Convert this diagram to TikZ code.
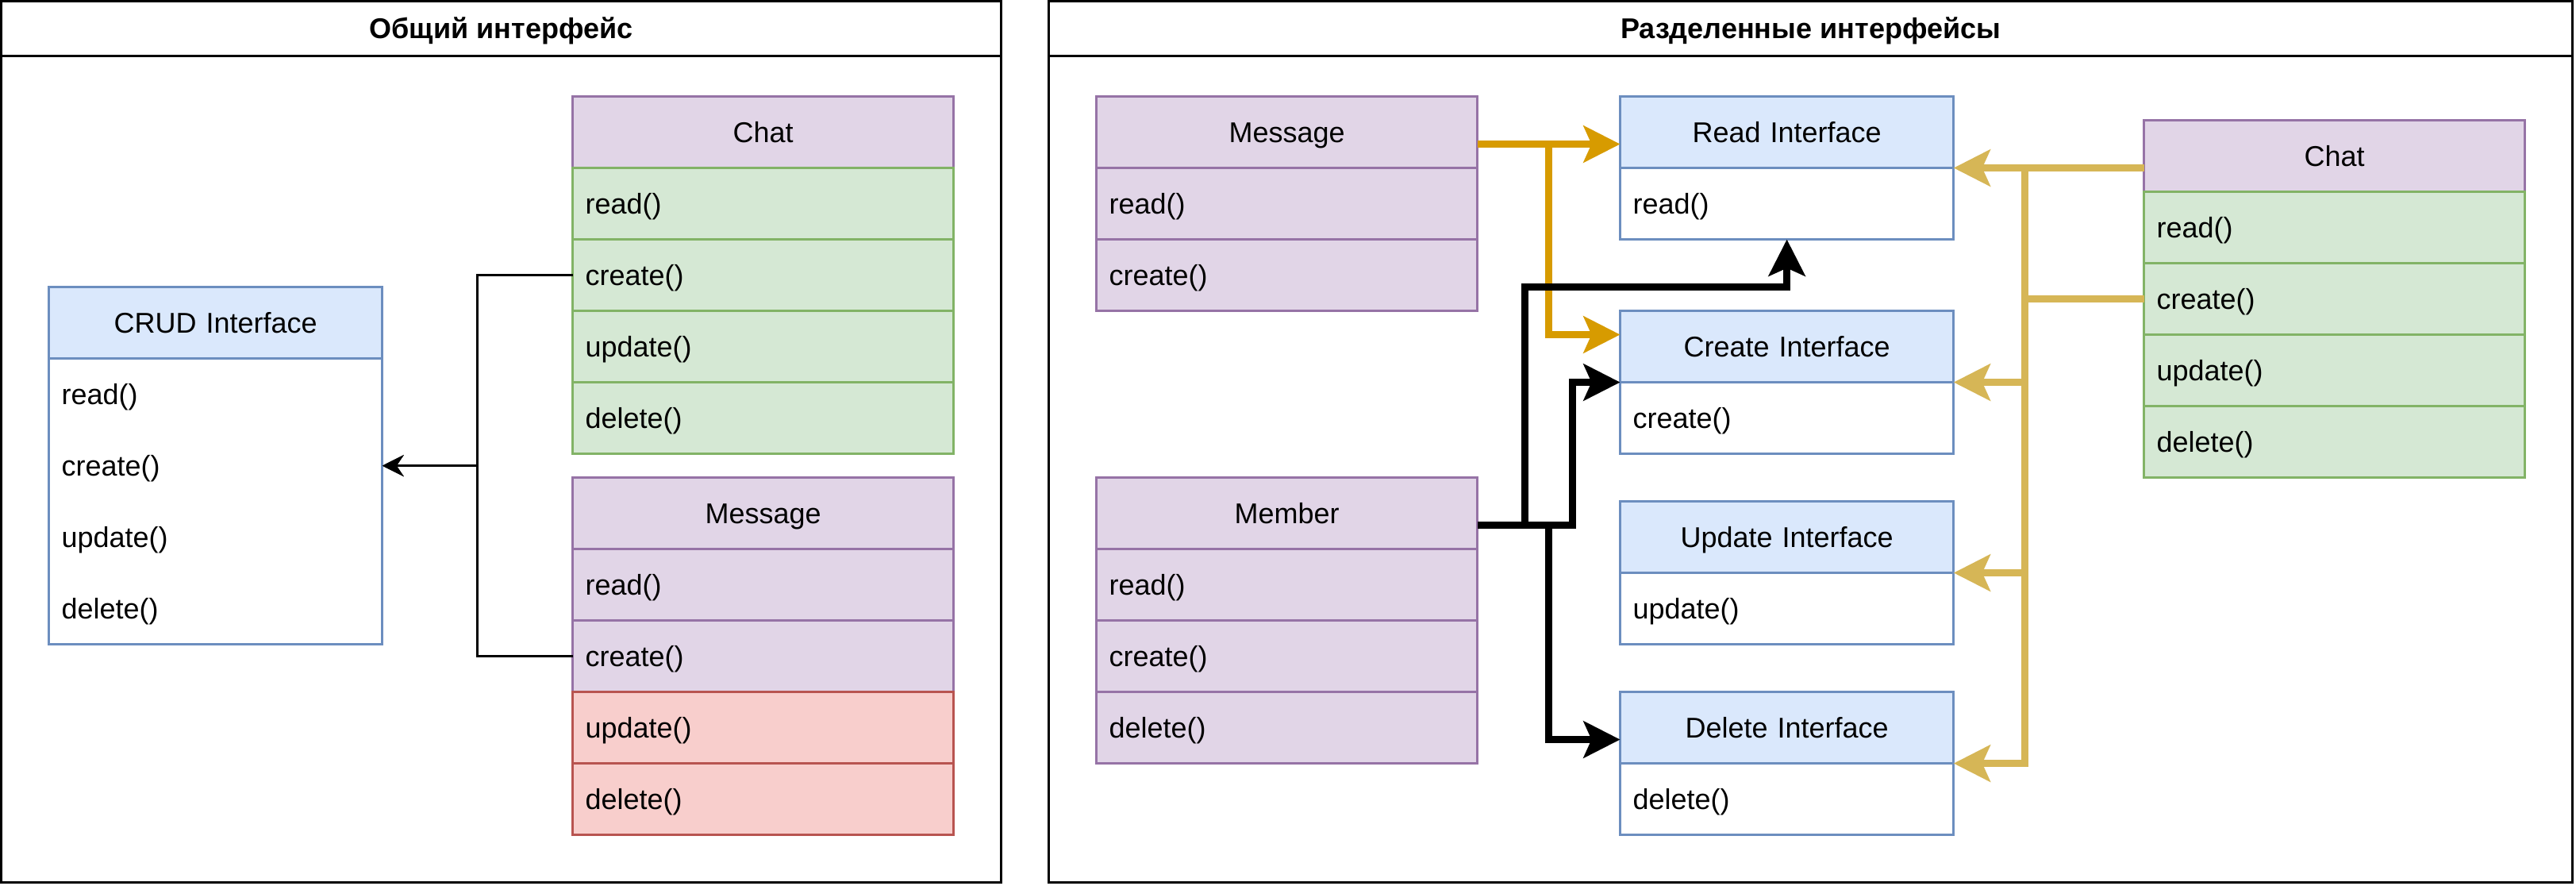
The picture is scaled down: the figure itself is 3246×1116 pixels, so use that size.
\documentclass[tikz,border=0pt]{standalone}
\usepackage{fontspec}
\setmainfont{Liberation Sans}
\usetikzlibrary{arrows.meta,positioning}
\usetikzlibrary{fit}

\definecolor{lilacFill}{HTML}{E1D5E7}
\definecolor{lilacLine}{HTML}{9673A6}
\definecolor{greenFill}{HTML}{D5E8D4}
\definecolor{greenLine}{HTML}{82B366}
\definecolor{redFill}{HTML}{F8CECC}
\definecolor{redLine}{HTML}{B85450}
\definecolor{blueFill}{HTML}{DAE8FC}
\definecolor{blueLine}{HTML}{6C8EBF}
\definecolor{orangeLine}{HTML}{D79B00}
\definecolor{goldLine}{HTML}{D6B656}

\tikzset{
	%Define standard arrow tip
	>={Stealth[length=0.27cm,width=0.27cm,inset=0.09cm]},
	%Define style for class boxes
	kasse/.style={
		rectangle,
		line width=0.03cm,
		inner xsep=0.16cm, inner ysep=0pt, outer sep=0pt,
		text width=4.48cm,
		minimum height=0.9cm,
		text height=0.33cm, text depth=0.07cm},
	hode/.style={kasse, align=center},
	felt/.style={kasse, align=left},
	smal/.style={text width=3.88cm},
	% Define colour styles
	lilla/.style={fill=lilacFill, draw=lilacLine},
	gronn/.style={fill=greenFill, draw=greenLine},
	roed/.style={fill=redFill, draw=redLine},
	blaa/.style={fill=blueFill, draw=blueLine},
	hvit/.style={fill=white, draw=blueLine},
	% Define frame styles
	ramme/.style={draw=black, line width=0.03cm},
	tittel/.style={font=\fontsize{10.24}{12.3}\selectfont\bfseries, inner sep=0pt,
		text height=0.33cm, text depth=0.07cm},
	% Define arrow styles
	pil/.style={->, line width=0.03cm},
	pilTykk/.style={line width=0.087cm,
		-{Stealth[length=0.46cm,width=0.46cm,inset=0.1cm]}},
	pilO/.style={pilTykk, draw=orangeLine, color=orangeLine},
	pilS/.style={pilTykk, draw=black},
	pilG/.style={pilTykk, draw=goldLine, color=goldLine}
}

\begin{document}
\begin{tikzpicture}[x=0.01cm, y=-0.01cm, font=\fontsize{10.24}{12.3}\selectfont]

	\pgfdeclarelayer{bg}    % background layer for the CRUD body
	\pgfsetlayers{bg,main}

	\useasboundingbox (0,0) rectangle (3246,1116);

	% frames
	\draw[ramme] (1.5,1.5) rectangle (1261.5,1111.5);
	\draw[ramme] (1.5,70.5) -- (1261.5,70.5);
	\node[tittel] (leftT) at (631.5,36) {Общий интерфейс};
	\draw[ramme] (1321.5,1.5) rectangle (3241.5,1111.5);
	\draw[ramme] (1321.5,70.5) -- (3241.5,70.5);
	\node[tittel] (rightT) at (2281.5,36) {Разделенные интерфейсы};

	% left side
	\node[hode, smal, blaa, anchor=north west] (crud) at (61.5,361.5) {CRUD Interface};
	\node[felt, smal, below=0pt of crud] (crudR) {read()};
	\node[felt, smal, below=0pt of crudR] (crudC) {create()};
	\node[felt, smal, below=0pt of crudC] (crudU) {update()};
	\node[felt, smal, below=0pt of crudU] (crudD) {delete()};

	\node[hode, lilla, anchor=north west] (chatL) at (721.5,121.5) {Chat};
	\node[felt, gronn, below=0pt of chatL] (chatLR) {read()};
	\node[felt, gronn, below=0pt of chatLR] (chatLC) {create()};
	\node[felt, gronn, below=0pt of chatLC] (chatLU) {update()};
	\node[felt, gronn, below=0pt of chatLU] (chatLD) {delete()};

	\node[hode, lilla, anchor=north west] (msgL) at (721.5,601.5) {Message};
	\node[felt, lilla, below=0pt of msgL] (msgLR) {read()};
	\node[felt, lilla, below=0pt of msgLR] (msgLC) {create()};
	\node[felt, roed, below=0pt of msgLC] (msgLU) {update()};
	\node[felt, roed, below=0pt of msgLU] (msgLD) {delete()};

	\draw[pil] (chatLC.west) -- ++(-120,0) |- (crudC.east);
	\draw[pil] (msgLC.west) -- ++(-120,0) |- (crudC.east);

	% right side
	\node[hode, lilla, anchor=north west] (msgR) at (1381.5,121.5) {Message};
	\node[felt, lilla, below=0pt of msgR] (msgRR) {read()};
	\node[felt, lilla, below=0pt of msgRR] (msgRC) {create()};

	\node[hode, lilla, anchor=north west] (member) at (1381.5,601.5) {Member};
	\node[felt, lilla, below=0pt of member] (memberR) {read()};
	\node[felt, lilla, below=0pt of memberR] (memberC) {create()};
	\node[felt, lilla, below=0pt of memberC] (memberD) {delete()};

	\node[hode, smal, blaa, anchor=north west] (readI) at (2041.5,121.5) {Read Interface};
	\node[felt, smal, hvit, below=0pt of readI] (readIR) {read()};
	\node[hode, smal, blaa, anchor=north west] (createI) at (2041.5,391.5) {Create Interface};
	\node[felt, smal, hvit, below=0pt of createI] (createIC) {create()};
	\node[hode, smal, blaa, anchor=north west] (updateI) at (2041.5,631.5) {Update Interface};
	\node[felt, smal, hvit, below=0pt of updateI] (updateIU) {update()};
	\node[hode, smal, blaa, anchor=north west] (deleteI) at (2041.5,871.5) {Delete Interface};
	\node[felt, smal, hvit, below=0pt of deleteI] (deleteID) {delete()};

	\node[hode, lilla, anchor=north west] (chatR) at (2701.5,151.5) {Chat};
	\node[felt, gronn, below=0pt of chatR] (chatRR) {read()};
	\node[felt, gronn, below=0pt of chatRR] (chatRC) {create()};
	\node[felt, gronn, below=0pt of chatRC] (chatRU) {update()};
	\node[felt, gronn, below=0pt of chatRU] (chatRD) {delete()};

	\draw[pilO] ([yshift=-0.15cm]msgR.east) -- ([yshift=-0.15cm]readI.west);
	\draw[pilO] ([yshift=-0.15cm]msgR.east) -- ++(89.5,0) |- ([yshift=0.15cm]createI.west);

	\draw[pilS] ([yshift=-0.15cm]member.east) -- ++(59.5,0) |- ([yshift=-0.6cm]readIR.south) -- (readIR.south);
	\draw[pilS] ([yshift=-0.15cm]member.east) -- ++(119.5,0) |- (createI.south west);
	\draw[pilS] ([yshift=-0.15cm]member.east) -- ++(89.5,0) |- ([yshift=-0.15cm]deleteI.west);

	\draw[pilG] ([yshift=-0.15cm]chatR.west) -- (readI.south east);
	\draw[pilG] (chatRC.west) -- ++(-150,0) |- (createI.south east);
	\draw[pilG] ([yshift=-0.15cm]chatR.west) -- ++(-150,0) |- (updateI.south east);
	\draw[pilG] ([yshift=-0.15cm]chatR.west) -- ++(-150,0) |- (deleteI.south east);

	\begin{pgfonlayer}{bg}    % body of the CRUD box
		\node[draw=blueLine, fill=white, line width=0.03cm, inner sep=0pt, fit=(crudR) (crudD)] (crudBody) {};
	\end{pgfonlayer}

\end{tikzpicture}
\end{document}
